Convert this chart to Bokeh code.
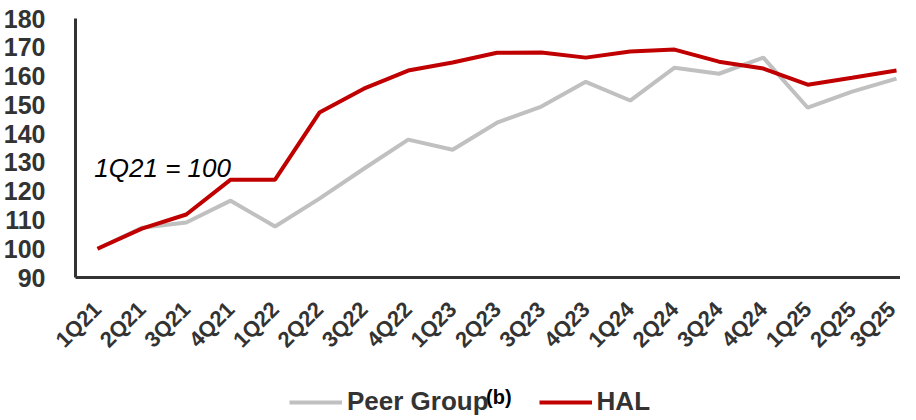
import math
from bokeh.plotting import figure
from bokeh.layouts import column
from bokeh.models import Legend, LegendItem, Label, FixedTicker, Range1d
from bokeh.embed import file_html
from bokeh.resources import INLINE

quarters = ["1Q21", "2Q21", "3Q21", "4Q21", "1Q22", "2Q22", "3Q22", "4Q22",
            "1Q23", "2Q23", "3Q23", "4Q23", "1Q24", "2Q24", "3Q24", "4Q24",
            "1Q25", "2Q25", "3Q25"]
peer_group = [100, 107.3, 109.1, 116.7, 107.7, 117.4, 127.8, 137.9,
              134.4, 143.8, 149.4, 158.0, 151.5, 162.9, 160.8, 166.4,
              149.0, 154.6, 159.1]
hal = [100, 107.0, 111.9, 124.0, 124.0, 147.3, 155.6, 161.9,
       164.7, 168.1, 168.2, 166.4, 168.5, 169.2, 165.0, 162.6,
       157.0, 159.4, 161.9]
y_ticks = [90, 100, 110, 120, 130, 140, 150, 160, 170, 180]
series_names = ["Peer Group", "HAL"]
series_colors = ["#C0C0C0", "#C00000"]

FONT = "Liberation Sans"
TXT = "#333333"

x = list(range(len(quarters)))

MAIN_H = 365
LEG_H = 51

p = figure(width=900, height=MAIN_H, output_backend="svg", toolbar_location=None,
           x_range=Range1d(-0.495, 18.09), y_range=Range1d(90, 180),
           min_border_left=74, min_border_top=18, min_border_right=0,
           min_border_bottom=88)
p.outline_line_color = None
p.xgrid.grid_line_color = None
p.ygrid.grid_line_color = None

p.line(x, peer_group, line_color=series_colors[0], line_width=4)
p.line(x, hal, line_color=series_colors[1], line_width=4)

for ax in (p.xaxis[0], p.yaxis[0]):
    ax.axis_line_color = TXT
    ax.axis_line_width = 3
    ax.major_tick_line_color = None
    ax.minor_tick_line_color = None
    ax.major_label_text_font = FONT
    ax.major_label_text_font_style = "bold"
    ax.major_label_text_color = TXT

p.yaxis.ticker = FixedTicker(ticks=y_ticks)
p.yaxis.major_label_text_font_size = "25px"
p.yaxis.major_label_standoff = 24

p.xaxis.ticker = FixedTicker(ticks=x)
p.xaxis.major_label_overrides = {i: q for i, q in enumerate(quarters)}
p.xaxis.major_label_orientation = math.pi / 4
p.xaxis.major_label_text_font_size = "22px"
p.xaxis.major_label_standoff = 22

p.add_layout(Label(x=-0.07, y=128.2, text="1Q21 = 100", text_font=FONT,
                   text_font_style="italic", text_font_size="26px",
                   text_color="black", text_baseline="middle"))

# legend strip: its frame is aligned with the main frame; ranges in page pixels
lg = figure(width=900, height=LEG_H, output_backend="svg", toolbar_location=None,
            x_range=Range1d(78, 904), y_range=Range1d(MAIN_H + LEG_H, MAIN_H),
            min_border_left=74, min_border_right=0, min_border_top=0,
            min_border_bottom=0, x_axis_type=None, y_axis_type=None)
lg.outline_line_color = None
lg.xgrid.grid_line_color = None
lg.ygrid.grid_line_color = None
# off-range stand-ins used only for the legend swatches
dummies = [lg.line([-10, -5], [-10, -10], line_color=c, line_width=4)
           for c in series_colors]
legend = Legend(items=[LegendItem(label=n, renderers=[r])
                       for n, r in zip(series_names, dummies)],
                orientation="horizontal", location=(214, -1),
                label_text_font=FONT, label_text_font_style="bold",
                label_text_font_size="26px", label_text_color=TXT,
                glyph_width=53, glyph_height=20, label_standoff=5,
                spacing=50, padding=0, margin=0,
                border_line_color=None, background_fill_alpha=0)
lg.add_layout(legend, "center")
lg.add_layout(Label(x=489, y=396, text="(b)", text_font=FONT,
                    text_font_style="bold", text_font_size="20px",
                    text_color="black", text_baseline="middle"))

open("out.html", "w").write(file_html(column(p, lg, spacing=0), INLINE))
